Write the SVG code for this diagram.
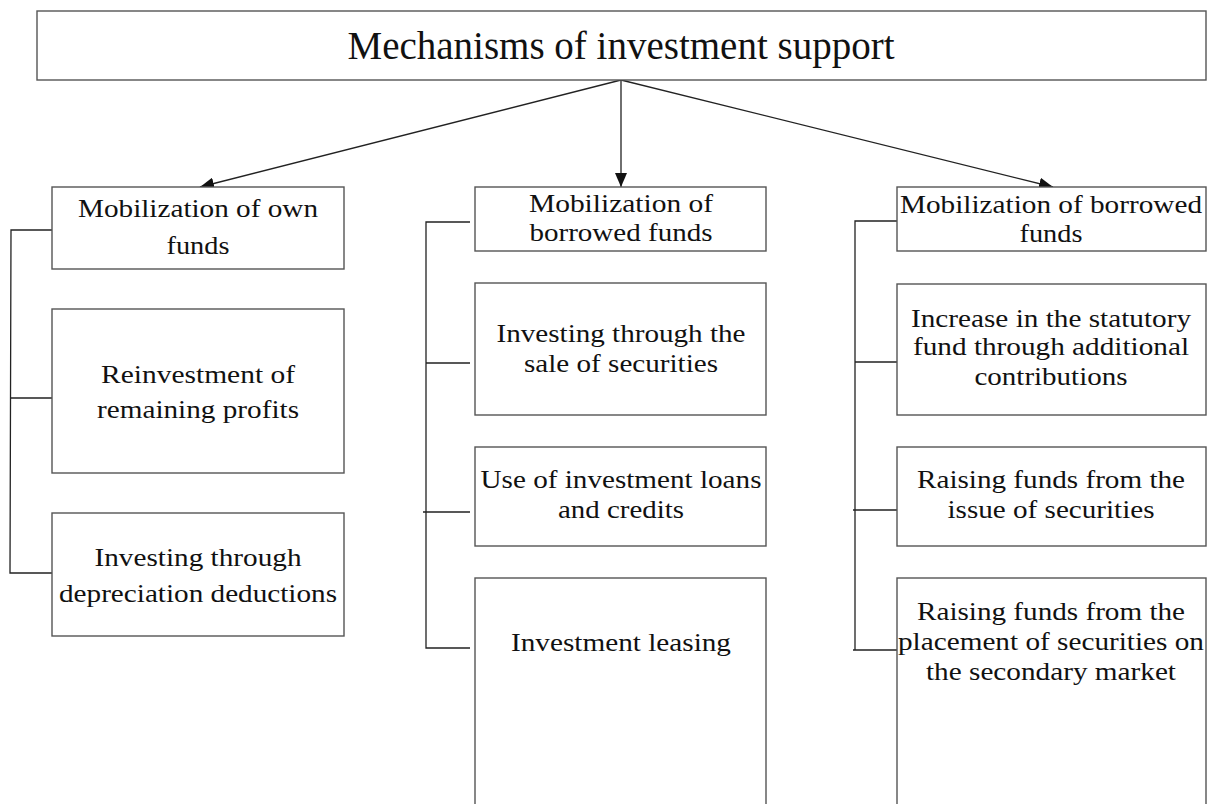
<svg xmlns="http://www.w3.org/2000/svg" width="1219" height="804" viewBox="0 0 1219 804">
<style>
.box{fill:#fff;stroke:#555;stroke-width:1.4}
.t{font-family:"Liberation Serif","Times New Roman",serif;font-size:26px;fill:#111;text-anchor:middle}
.title{font-family:"Liberation Serif","Times New Roman",serif;font-size:39px;fill:#111;text-anchor:middle}
.ln{stroke:#222;stroke-width:1.3;fill:none}
</style>
<defs>
<marker id="ah" viewBox="0 0 14 12" refX="14" refY="6" markerWidth="14" markerHeight="12" markerUnits="userSpaceOnUse" orient="auto">
<path d="M0,0 L14,6 L0,12 Z" fill="#111"/>
</marker>
</defs>
<rect width="1219" height="804" fill="#fff"/>
<g id="connectors">
<line class="ln" x1="621" y1="80" x2="200" y2="187" marker-end="url(#ah)"/>
<line class="ln" x1="621" y1="80" x2="621" y2="187" marker-end="url(#ah)"/>
<line class="ln" x1="621" y1="80" x2="1053" y2="187" marker-end="url(#ah)"/>
<path class="ln" d="M52,230 H11 L10,573 H52 M10,398 H52"/>
<path class="ln" d="M470,222 H426 V648 H470 M426,363 H470 M423,512 H470"/>
<path class="ln" d="M897,221 H855 V650 M853,650 H897 M855,362 H897 M853,510 H897"/>
</g>
<g id="root">
<rect class="box" x="37" y="11" width="1169" height="69"/>
<text class="title" x="621" y="59">Mechanisms of investment support</text>
</g>
<g id="left-head">
<rect class="box" x="52" y="187" width="292" height="82"/>
<text class="t" x="198" y="217" textLength="240" lengthAdjust="spacingAndGlyphs">Mobilization of own</text>
<text class="t" x="198" y="254" textLength="63" lengthAdjust="spacingAndGlyphs">funds</text>
</g>
<g id="left-1">
<rect class="box" x="52" y="309" width="292" height="164"/>
<text class="t" x="198" y="383" textLength="194" lengthAdjust="spacingAndGlyphs">Reinvestment of</text>
<text class="t" x="198" y="418" textLength="202" lengthAdjust="spacingAndGlyphs">remaining profits</text>
</g>
<g id="left-2">
<rect class="box" x="52" y="513" width="292" height="123"/>
<text class="t" x="198" y="566" textLength="207" lengthAdjust="spacingAndGlyphs">Investing through</text>
<text class="t" x="198" y="602" textLength="278" lengthAdjust="spacingAndGlyphs">depreciation deductions</text>
</g>
<g id="mid-head">
<rect class="box" x="475" y="187" width="291" height="64"/>
<text class="t" x="621" y="212" textLength="184" lengthAdjust="spacingAndGlyphs">Mobilization of</text>
<text class="t" x="621" y="241" textLength="183" lengthAdjust="spacingAndGlyphs">borrowed funds</text>
</g>
<g id="mid-1">
<rect class="box" x="475" y="283" width="291" height="132"/>
<text class="t" x="621" y="342" textLength="249" lengthAdjust="spacingAndGlyphs">Investing through the</text>
<text class="t" x="621" y="372" textLength="194" lengthAdjust="spacingAndGlyphs">sale of securities</text>
</g>
<g id="mid-2">
<rect class="box" x="475" y="447" width="291" height="99"/>
<text class="t" x="621" y="488" textLength="281" lengthAdjust="spacingAndGlyphs">Use of investment loans</text>
<text class="t" x="621" y="518" textLength="126" lengthAdjust="spacingAndGlyphs">and credits</text>
</g>
<g id="mid-3">
<rect class="box" x="475" y="578" width="291" height="240"/>
<text class="t" x="621" y="651" textLength="220" lengthAdjust="spacingAndGlyphs">Investment leasing</text>
</g>
<g id="right-head">
<rect class="box" x="897" y="187" width="309" height="64"/>
<text class="t" x="1051" y="213" textLength="302" lengthAdjust="spacingAndGlyphs">Mobilization of borrowed</text>
<text class="t" x="1051" y="242" textLength="63" lengthAdjust="spacingAndGlyphs">funds</text>
</g>
<g id="right-1">
<rect class="box" x="897" y="284" width="309" height="131"/>
<text class="t" x="1051" y="327" textLength="280" lengthAdjust="spacingAndGlyphs">Increase in the statutory</text>
<text class="t" x="1051" y="355" textLength="276" lengthAdjust="spacingAndGlyphs">fund through additional</text>
<text class="t" x="1051" y="385" textLength="153" lengthAdjust="spacingAndGlyphs">contributions</text>
</g>
<g id="right-2">
<rect class="box" x="897" y="447" width="309" height="99"/>
<text class="t" x="1051" y="488" textLength="268" lengthAdjust="spacingAndGlyphs">Raising funds from the</text>
<text class="t" x="1051" y="518" textLength="207" lengthAdjust="spacingAndGlyphs">issue of securities</text>
</g>
<g id="right-3">
<rect class="box" x="897" y="578" width="309" height="240"/>
<text class="t" x="1051" y="620" textLength="268" lengthAdjust="spacingAndGlyphs">Raising funds from the</text>
<text class="t" x="1051" y="650" textLength="306" lengthAdjust="spacingAndGlyphs">placement of securities on</text>
<text class="t" x="1051" y="680" textLength="250" lengthAdjust="spacingAndGlyphs">the secondary market</text>
</g>
</svg>
